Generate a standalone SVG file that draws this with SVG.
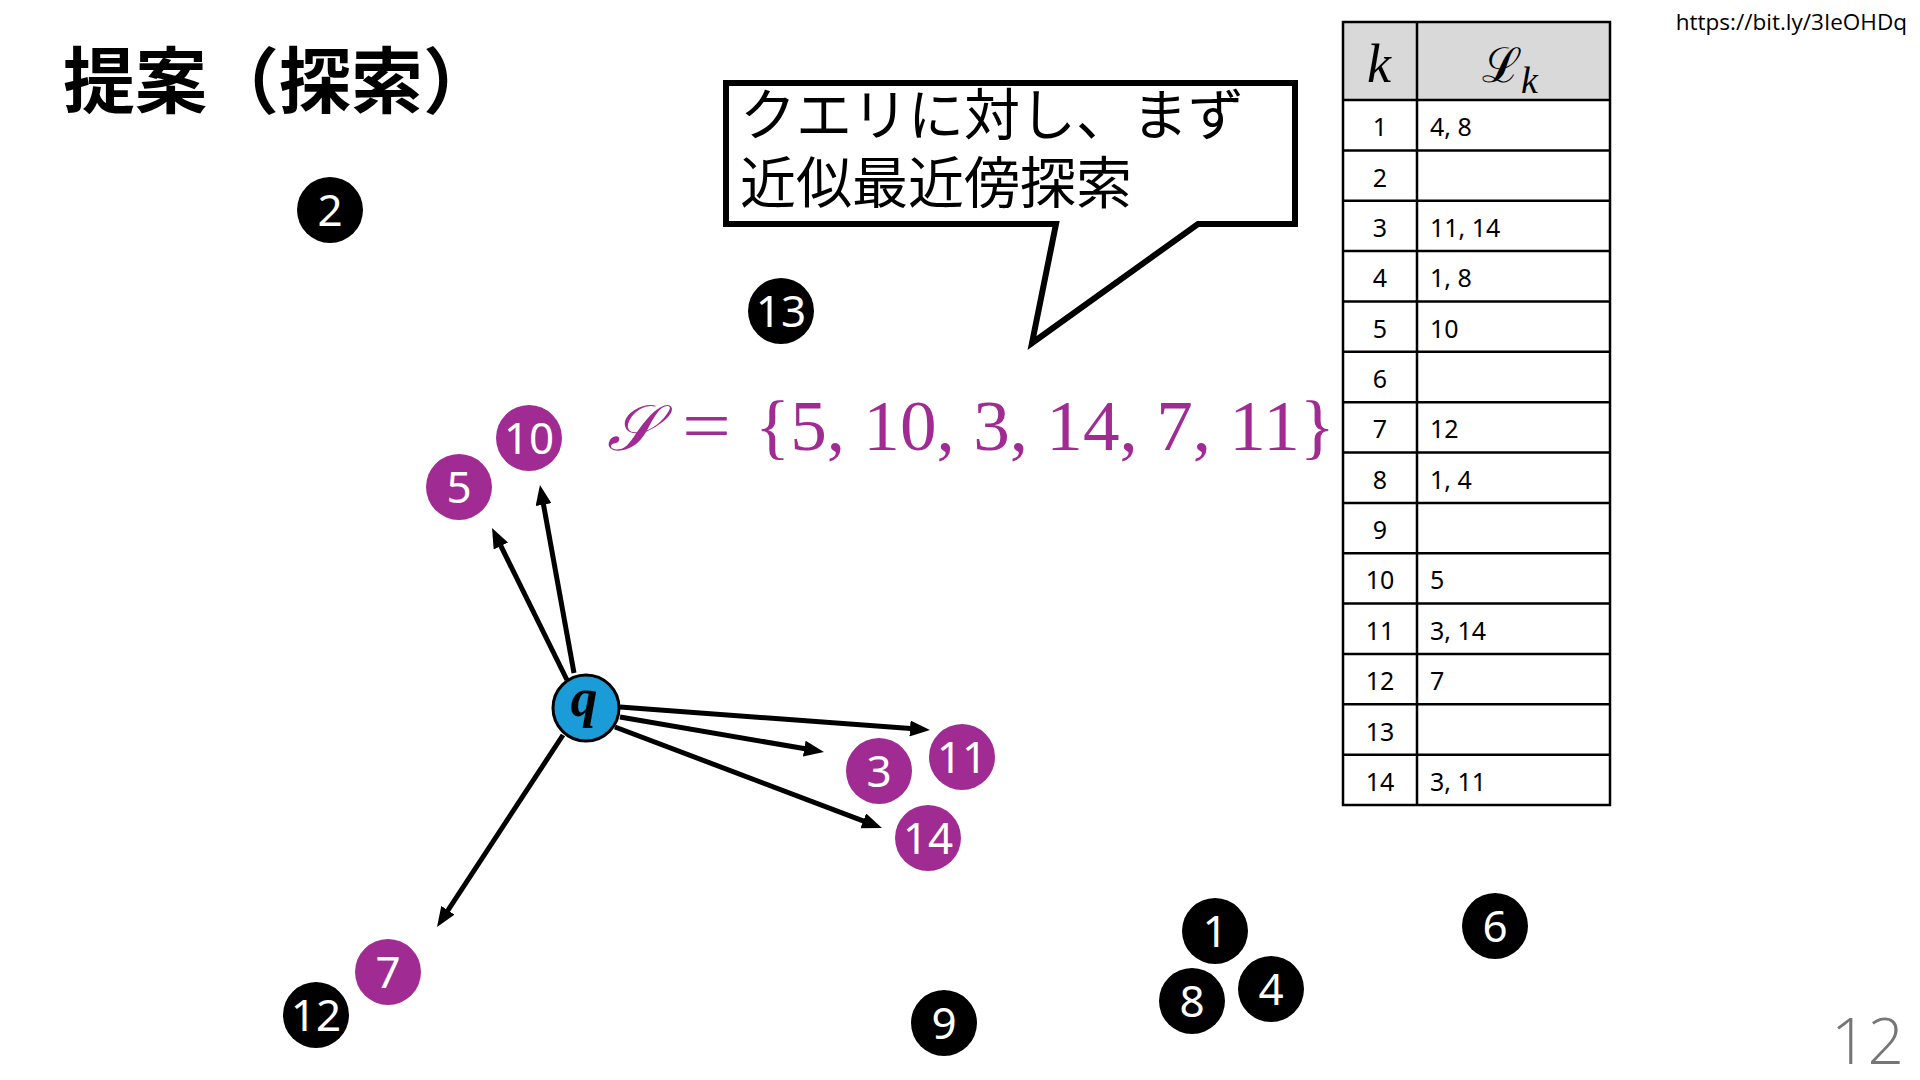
<svg xmlns="http://www.w3.org/2000/svg" width="1920" height="1080" viewBox="0 0 1920 1080">
<defs>
<style>
.bg{fill:#ffffff}
.blk{fill:#000000}
.pur{fill:#A02B93}
.qn{fill:#1B9BD7;stroke:#000000;stroke-width:3}
.lbl{fill:#ffffff;font-family:"Noto Sans","Open Sans",sans-serif;font-size:44px;text-anchor:middle}
.conn{stroke:#000000;stroke-width:5;fill:none;marker-end:url(#ah)}
.cell{font-family:"Noto Sans","Open Sans",sans-serif;font-size:25px;fill:#000000}
.kc{text-anchor:middle}
.grid{stroke:#000000;stroke-width:2.5;fill:none}
.jp{font-family:"Noto Sans CJK JP","Noto Sans CJK SC",sans-serif}
.math{font-family:"Liberation Serif","DejaVu Serif",serif;fill:#A02B93}
</style>
<marker id="ah" markerUnits="userSpaceOnUse" markerWidth="20" markerHeight="16" refX="4" refY="8" orient="auto" viewBox="0 0 20 16">
<path d="M0,0 L20,8 L0,16 Z" fill="#000000"/>
</marker>
</defs>
<rect class="bg" x="0" y="0" width="1920" height="1080"/>

<g id="title">
<text x="63" y="107" class="jp" font-size="72" font-weight="700" fill="#000000">提案（探索）</text>
</g>

<g id="url">
<text x="1907" y="30" font-family="Open Sans, Noto Sans, sans-serif" font-size="22.5" text-anchor="end" fill="#000000">https://bit.ly/3IeOHDq</text>
</g>

<g id="page-number">
<text x="1904" y="1064" font-family="Open Sans, Noto Sans, sans-serif" font-weight="300" font-size="64" text-anchor="end" fill="#767676">12</text>
</g>

<g id="callout">
<path d="M726,83 H1295 V224 H1198 L1032,343 L1056,224 H726 Z" fill="#ffffff" stroke="#000000" stroke-width="6" stroke-linejoin="miter"/>
<text class="jp" x="740" y="135" font-size="56" fill="#000000">クエリに対し、まず</text>
<text class="jp" x="740" y="203" font-size="56" fill="#000000">近似最近傍探索</text>
</g>

<g id="set-equation">
<text class="math" x="607" y="450" font-size="64" font-style="italic" textLength="50" lengthAdjust="spacingAndGlyphs">𝒮</text>
<text class="math" x="682" y="450" font-size="72" textLength="49" lengthAdjust="spacingAndGlyphs">=</text>
<text class="math" x="755" y="450" font-size="72" textLength="580" lengthAdjust="spacingAndGlyphs">{5, 10, 3, 14, 7, 11}</text>
</g>

<g id="connectors">
<line class="conn" x1="567" y1="680" x2="499.1" y2="542.4"/>
<line class="conn" x1="574" y1="673" x2="542.8" y2="500.7"/>
<line class="conn" x1="620" y1="707" x2="914" y2="728.8"/>
<line class="conn" x1="620" y1="717" x2="808.2" y2="749.3"/>
<line class="conn" x1="615" y1="727" x2="867" y2="822.3"/>
<line class="conn" x1="563" y1="735" x2="445.8" y2="913.6"/>
</g>

<g id="node-q">
<circle class="qn" cx="586" cy="708" r="33"/>
<text x="584" y="716" font-family="Liberation Serif, DejaVu Serif, serif" font-size="54" font-style="italic" font-weight="700" text-anchor="middle" fill="#000000">q</text>
</g>
<g id="node-1"><circle class="blk" cx="1215" cy="931" r="33"/><text class="lbl" x="1215" y="947">1</text></g>
<g id="node-2"><circle class="blk" cx="330" cy="210" r="33"/><text class="lbl" x="330" y="226">2</text></g>
<g id="node-3"><circle class="pur" cx="879" cy="771" r="33"/><text class="lbl" x="879" y="787">3</text></g>
<g id="node-4"><circle class="blk" cx="1271" cy="989" r="33"/><text class="lbl" x="1271" y="1005">4</text></g>
<g id="node-5"><circle class="pur" cx="459" cy="487" r="33"/><text class="lbl" x="459" y="503">5</text></g>
<g id="node-6"><circle class="blk" cx="1495" cy="926" r="33"/><text class="lbl" x="1495" y="942">6</text></g>
<g id="node-7"><circle class="pur" cx="388" cy="972" r="33"/><text class="lbl" x="388" y="988">7</text></g>
<g id="node-8"><circle class="blk" cx="1192" cy="1001" r="33"/><text class="lbl" x="1192" y="1017">8</text></g>
<g id="node-9"><circle class="blk" cx="944" cy="1023" r="33"/><text class="lbl" x="944" y="1039">9</text></g>
<g id="node-10"><circle class="pur" cx="529" cy="438" r="33"/><text class="lbl" x="529" y="454">10</text></g>
<g id="node-11"><circle class="pur" cx="962" cy="757" r="33"/><text class="lbl" x="962" y="773">11</text></g>
<g id="node-12"><circle class="blk" cx="316" cy="1015" r="33"/><text class="lbl" x="316" y="1031">12</text></g>
<g id="node-13"><circle class="blk" cx="781" cy="311" r="33"/><text class="lbl" x="781" y="327">13</text></g>
<g id="node-14"><circle class="pur" cx="928" cy="838" r="33"/><text class="lbl" x="928" y="854">14</text></g>

<g id="table">
<rect x="1343" y="22" width="267" height="78" fill="#D9D9D9"/>
<rect class="grid" x="1343" y="22" width="267" height="783"/>
<line class="grid" x1="1417" y1="22" x2="1417" y2="805"/>
<line class="grid" x1="1343" y1="100" x2="1610" y2="100"/>
<line class="grid" x1="1343" y1="150.4" x2="1610" y2="150.4"/>
<line class="grid" x1="1343" y1="200.7" x2="1610" y2="200.7"/>
<line class="grid" x1="1343" y1="251.1" x2="1610" y2="251.1"/>
<line class="grid" x1="1343" y1="301.4" x2="1610" y2="301.4"/>
<line class="grid" x1="1343" y1="351.8" x2="1610" y2="351.8"/>
<line class="grid" x1="1343" y1="402.2" x2="1610" y2="402.2"/>
<line class="grid" x1="1343" y1="452.5" x2="1610" y2="452.5"/>
<line class="grid" x1="1343" y1="502.9" x2="1610" y2="502.9"/>
<line class="grid" x1="1343" y1="553.2" x2="1610" y2="553.2"/>
<line class="grid" x1="1343" y1="603.6" x2="1610" y2="603.6"/>
<line class="grid" x1="1343" y1="654.0" x2="1610" y2="654.0"/>
<line class="grid" x1="1343" y1="704.3" x2="1610" y2="704.3"/>
<line class="grid" x1="1343" y1="754.7" x2="1610" y2="754.7"/>
<text x="1379" y="82" font-family="Liberation Serif, DejaVu Serif, serif" font-style="italic" font-size="54" text-anchor="middle" fill="#000000">k</text>
<text x="1482" y="82" font-family="DejaVu Serif, Liberation Serif, serif" font-size="48" fill="#000000">ℒ</text>
<text x="1521" y="93" font-family="Liberation Serif, DejaVu Serif, serif" font-style="italic" font-size="38" fill="#000000">k</text>
<text class="cell kc" x="1380" y="136.2">1</text><text class="cell" x="1430" y="136.2">4, 8</text>
<text class="cell kc" x="1380" y="186.5">2</text>
<text class="cell kc" x="1380" y="236.9">3</text><text class="cell" x="1430" y="236.9">11, 14</text>
<text class="cell kc" x="1380" y="287.3">4</text><text class="cell" x="1430" y="287.3">1, 8</text>
<text class="cell kc" x="1380" y="337.6">5</text><text class="cell" x="1430" y="337.6">10</text>
<text class="cell kc" x="1380" y="388.0">6</text>
<text class="cell kc" x="1380" y="438.3">7</text><text class="cell" x="1430" y="438.3">12</text>
<text class="cell kc" x="1380" y="488.7">8</text><text class="cell" x="1430" y="488.7">1, 4</text>
<text class="cell kc" x="1380" y="539.1">9</text>
<text class="cell kc" x="1380" y="589.4">10</text><text class="cell" x="1430" y="589.4">5</text>
<text class="cell kc" x="1380" y="639.8">11</text><text class="cell" x="1430" y="639.8">3, 14</text>
<text class="cell kc" x="1380" y="690.1">12</text><text class="cell" x="1430" y="690.1">7</text>
<text class="cell kc" x="1380" y="740.5">13</text>
<text class="cell kc" x="1380" y="790.9">14</text><text class="cell" x="1430" y="790.9">3, 11</text>
</g>
</svg>
